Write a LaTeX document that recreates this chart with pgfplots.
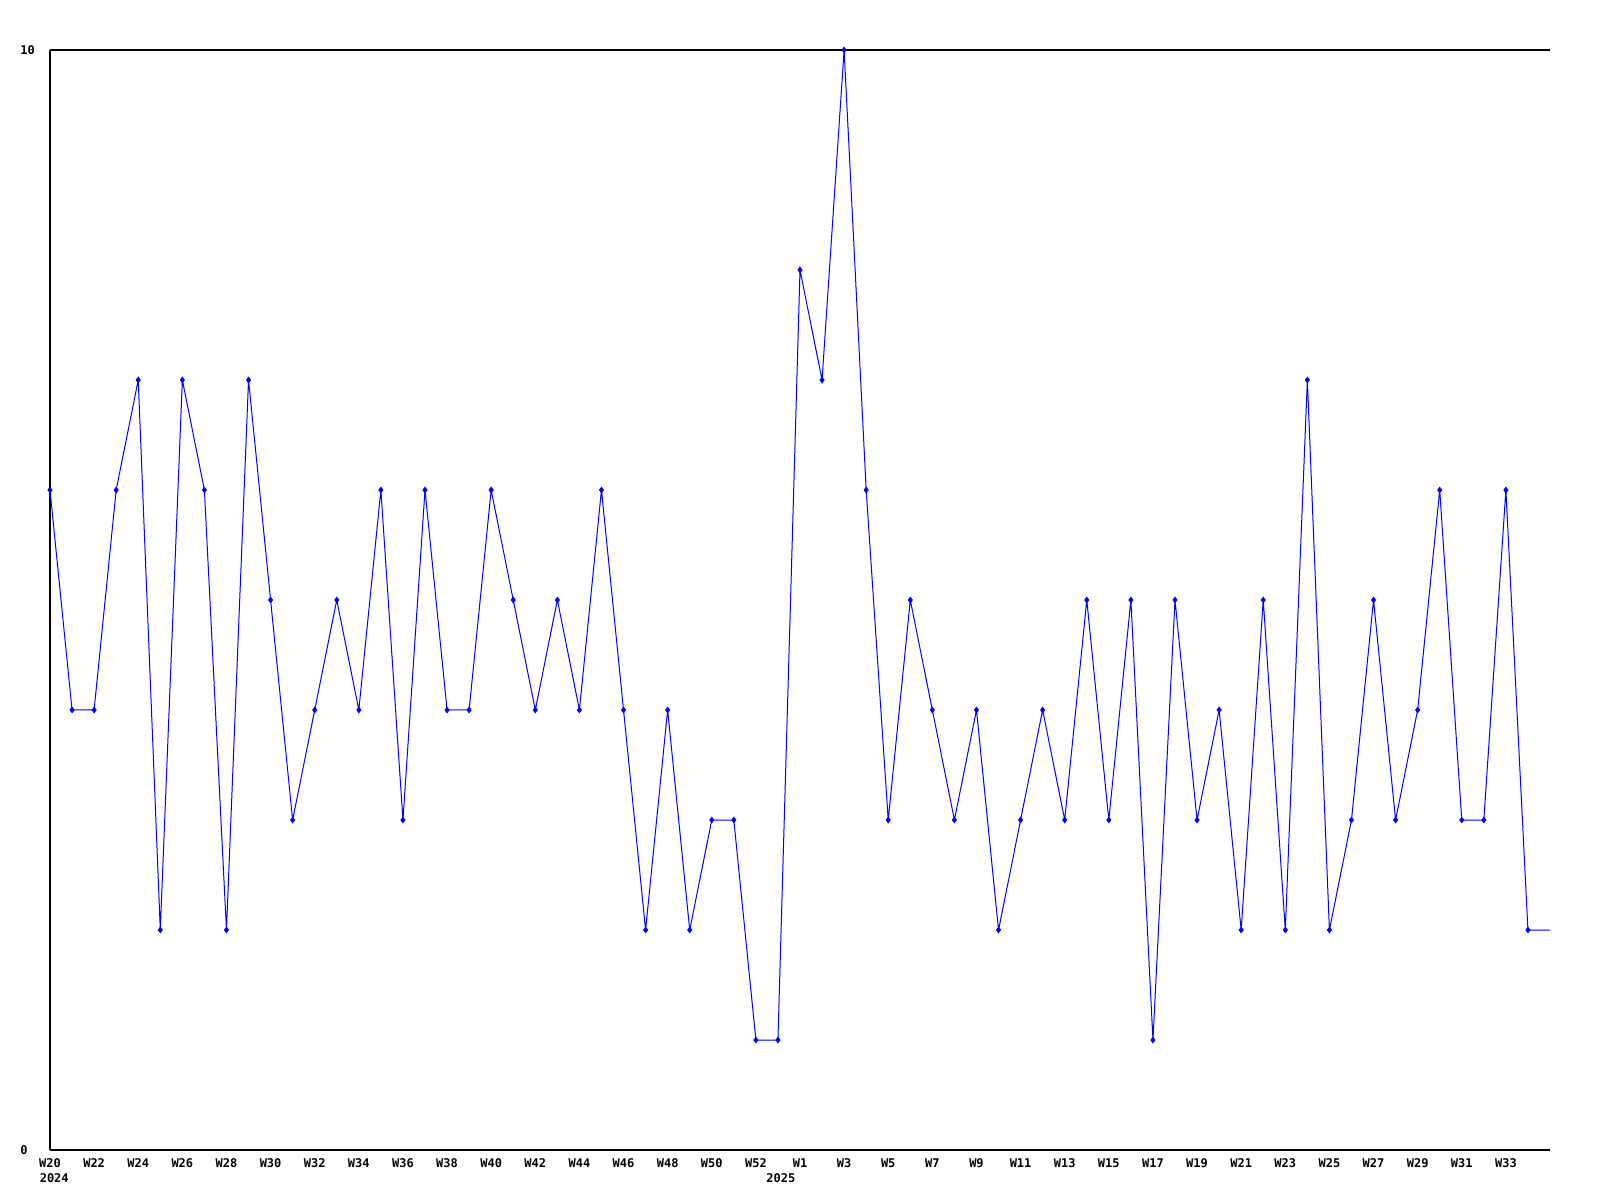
\documentclass[border=0pt]{standalone}
\usepackage{pgfplots}
\pgfplotsset{compat=1.18}
\usepackage{pgfplotstable}
\usepackage{fontspec}
\setmainfont{DejaVu Sans Mono}
\pgfplotstableread{
x y
0 6
1 4
2 4
3 6
4 7
5 2
6 7
7 6
8 2
9 7
10 5
11 3
12 4
13 5
14 4
15 6
16 3
17 6
18 4
19 4
20 6
21 5
22 4
23 5
24 4
25 6
26 4
27 2
28 4
29 2
30 3
31 3
32 1
33 1
34 8
35 7
36 10
37 6
38 3
39 5
40 4
41 3
42 4
43 2
44 3
45 4
46 3
47 5
48 3
49 5
50 1
51 5
52 3
53 4
54 2
55 5
56 2
57 7
58 2
59 3
60 5
61 3
62 4
63 6
64 3
65 3
66 6
67 2
68 2
}\datatable
\begin{document}
\begin{tikzpicture}[font=\bfseries\fontsize{6}{7.5}\selectfont]
\path[use as bounding box] (0,0) rectangle (800pt,600pt);
\begin{axis}[
  at={(25pt,25pt)}, anchor=south west,
  width=750pt, height=550pt, scale only axis,
  xmin=0, xmax=68, ymin=0, ymax=10,
  axis x line=bottom, axis y line=left,
  axis line style={-, black, line width=0.55pt},
  major tick length=0pt,
  /pgf/number format/assume math mode=true,
  ytick={0,10}, yticklabels={0,10},
  yticklabel style={anchor=west, xshift=-15pt, inner sep=0pt},
  xtick={0,2,...,66},
  xticklabels={W20,W22,W24,W26,W28,W30,W32,W34,W36,W38,W40,W42,W44,W46,W48,W50,W52,W1,W3,W5,W7,W9,W11,W13,W15,W17,W19,W21,W23,W25,W27,W29,W31,W33},
  xticklabel style={anchor=north, inner sep=0pt, yshift=-4pt},
  clip=false,
]
\addplot[color={rgb,255:red,0;green,0;blue,255}, line width=0.5pt, mark=diamond*, mark size=1.3pt, mark indices={1,...,68}, mark options={solid}] table[x=x,y=y] {\datatable};
\draw[black, line width=0.55pt] (rel axis cs:0,1) -- (rel axis cs:1,1);
\node[anchor=north west, inner sep=0pt, yshift=-11.5pt, xshift=-5.3pt] at (axis cs:0,0) {2024};
\node[anchor=north, inner sep=0pt, yshift=-11.5pt, xshift=1.5pt] at (axis cs:33,0) {2025};
\end{axis}
\end{tikzpicture}
\end{document}
